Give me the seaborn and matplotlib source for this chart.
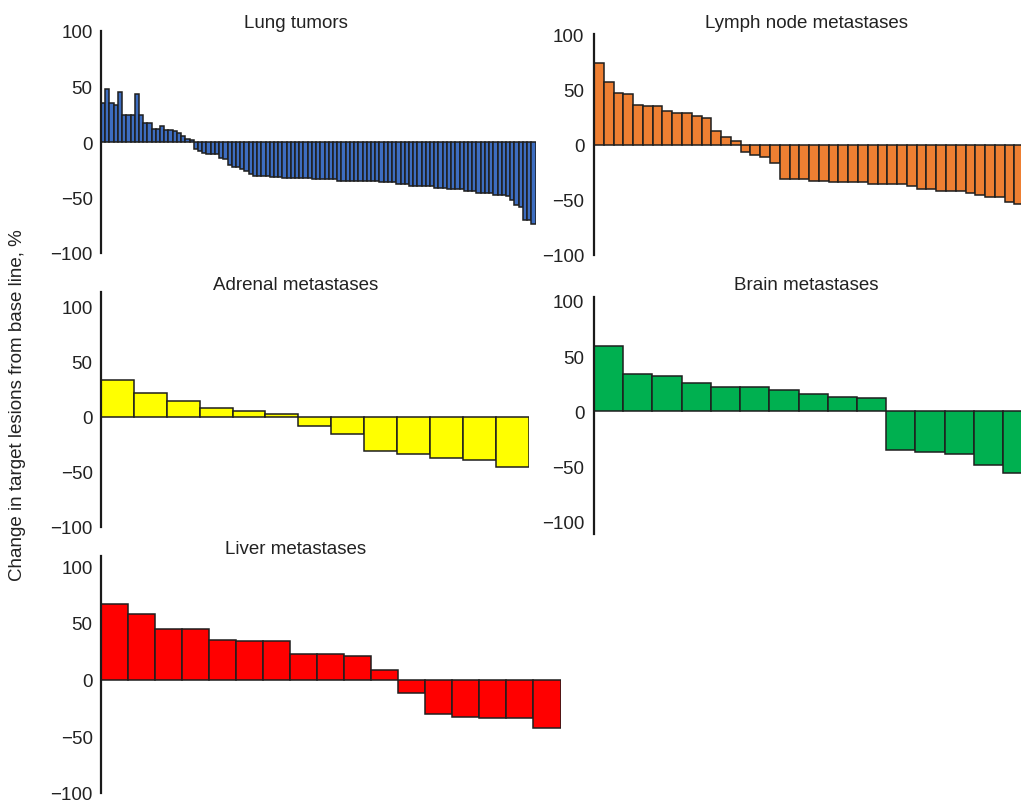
import numpy as np
import pandas as pd
import matplotlib
matplotlib.use("Agg")
import matplotlib.pyplot as plt
import seaborn as sns

# ---------------- data ----------------
lung_pos = [35, 48, 35, 33, 45, 24, 24, 24, 43, 24, 17, 17, 12, 12, 14, 11, 11, 10,
            8.5, 5.5, 2.5, 1.5]
lung_neg = [-6, -8.5, -10, -10.6, -11, -11, -14, -15.5, -20.6, -22.7, -22.7, -24.5,
            -26, -29, -30.3, -30.3, -30.3, -31, -31.8, -31.8, -31.8, -32, -32.5,
            -32.5, -32.5, -32.7, -32.7, -32.7, -33.6, -33.6, -33.6, -33.6, -33.6,
            -33.6, -34.8, -34.8, -34.8, -34.8, -34.8, -34.8, -34.8, -34.8, -34.8,
            -34.8, -36.4, -36.4, -36.4, -36.4, -37.9, -37.9, -37.9, -39.4, -39.4,
            -39.4, -39.4, -39.4, -39.4, -41, -41, -41, -42.4, -42.4, -42.4, -42.4,
            -44, -44, -44, -45.8, -45.8, -45.8, -45.8, -48, -48, -48, -48.5, -52.4,
            -57, -59, -70, -70, -73.6]
lung = lung_pos + lung_neg

lymph = [73.6, 56.7, 47, 45.5, 35.8, 34.5, 34.5, 30, 28.8, 28.2, 25.8, 23.6, 12.4,
         7, 3, -7, -9.4, -11.2, -16.7, -30.9, -31.2, -31.5, -33, -33, -34.2, -34.2,
         -34.2, -34.2, -35.5, -35.5, -36, -36, -37.3, -40, -40.3, -42.4, -42.4,
         -42.4, -43.6, -45.5, -47.6, -47.6, -52.4, -53.6]

adrenal = [33.6, 21.5, 14.2, 8.2, 5.2, 2.4, -8.2, -15.8, -30.9, -33.9, -37.9,
           -39.1, -45.2]

brain = [58.8, 33.6, 32.1, 25.8, 21.8, 21.8, 19.4, 15.5, 13, 11.8, -34.8, -36.4,
         -38.2, -48.5, -56]

liver = [66.9, 57.6, 44.7, 44.7, 34.9, 33.7, 33.7, 22.8, 22.8, 20.7, 8.9, -11.5,
         -30.5, -32.6, -34.3, -34.3, -42.7]

titles = ["Lung tumors", "Lymph node metastases", "Adrenal metastases",
          "Brain metastases", "Liver metastases"]
yticks = [-100, -50, 0, 50, 100]
ylabel = "Change in target lesions from base line, %"

# ---------------- style ----------------
sns.set_style("white")
plt.rcParams["font.family"] = ["Liberation Sans", "DejaVu Sans"]
FS = 13.5
W, H = 1021, 804
fig = plt.figure(figsize=(W / 100, H / 100), dpi=100)


def px_axes(left, right, top, bottom):
    return fig.add_axes([left / W, 1 - bottom / H, (right - left) / W, (bottom - top) / H])


panels = [
    # values, color, (left,right,top,bottom px), xlim, ylim, title pos, pad
    (lung, "#3D6DC0", (101, 535.5, 32, 254), (-0.5, len(lung) - 0.5), (-100, 100), (296, 23), 6),
    (lymph, "#EE7F32", (594, 1021, 35, 256), (-0.5, 43.17), (-100, 100), (806, 23), 7),
    (adrenal, "#FFFF00", (101, 528.5, 293, 528), (-0.5, len(adrenal) - 0.5), (-99.5, 113), (296, 285), 6),
    (brain, "#00B050", (594, 1021, 298, 535), (-0.5, 14.11), (-111, 103.4), (806, 285), 7),
    (liver, "#FF0000", (101, 560.5, 557, 794), (-0.5, len(liver) - 0.5), (-100, 109), (296, 549), 6),
]

for (vals, color, box, xl, yl, tpos, pad), title in zip(panels, titles):
    ax = px_axes(*box)
    df = pd.DataFrame({"i": np.arange(len(vals)), "v": vals})
    sns.barplot(data=df, x="i", y="v", color=color, saturation=1, width=1.0,
                edgecolor="#1e1e1e", linewidth=1.1, ax=ax, zorder=2)
    for p in ax.patches:
        p.set_clip_on(True)
    ax.set_xlim(*xl)
    ax.set_ylim(*yl)
    ax.set_yticks(yticks)
    ax.set_yticklabels(["\u2212100", "\u221250", "0", "50", "100"])
    ax.tick_params(axis="y", length=0, pad=pad, labelsize=FS, labelcolor="#222222")
    ax.set_xticks([])
    ax.set_xlabel("")
    ax.set_ylabel("")
    for s in ["top", "right", "bottom"]:
        ax.spines[s].set_visible(False)
    ax.spines["left"].set_color("#1a1a1a")
    ax.spines["left"].set_linewidth(1.6)
    ax.spines["left"].set_zorder(5)
    ax.patch.set_alpha(0)
    fig.text(tpos[0] / W, 1 - tpos[1] / H, title, ha="center", va="center",
             fontsize=FS, color="#222222")

fig.text(18 / W, 1 - 405 / H, ylabel, rotation=90, ha="center", va="center",
         fontsize=FS, color="#222222")

fig.savefig("out.png", dpi=100)
